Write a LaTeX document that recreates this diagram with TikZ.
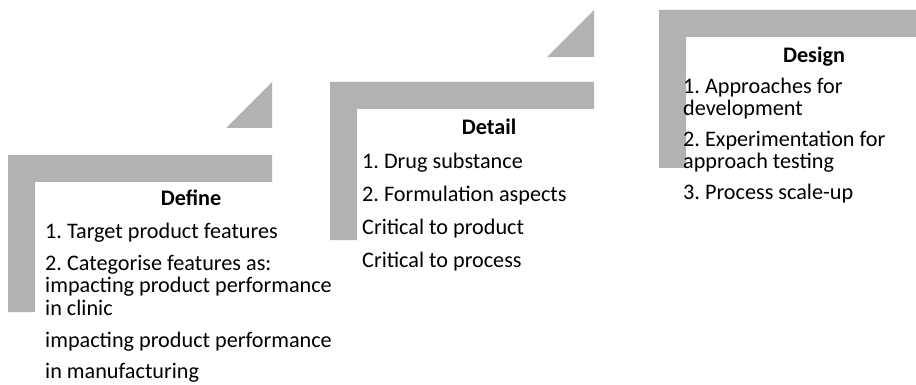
\documentclass[tikz,border=0pt]{standalone}
\usepackage{fontspec}
\setmainfont{Carlito}
\frenchspacing

\begin{document}
\begin{tikzpicture}[x=1pt,
                    y=-1pt,
                    bar/.style={fill=black!30,draw=none},
                    head/.style={font=\fontsize{22.2}{24}\selectfont\bfseries,anchor=base,inner sep=0pt},
                    item/.style={font=\fontsize{22.2}{24}\selectfont,anchor=base west,inner sep=0pt}
                    ]
  \useasboundingbox (0,0) rectangle (916,385);
  % stairs
  \foreach \x/\y/\w/\h in {8/155/264/157, 330/82/264/158, 659/10/257/158}{
    \fill[bar] (\x,\y) -- ++(\w,0) -- ++(0,27) -- ++(-\w+27,0) -- ++(0,\h-27) -- ++(-27,0) -- cycle;
  }
  \fill[bar] (226,128) -- (272,128) -- (272,82) -- cycle;
  \fill[bar] (547,57) -- (594,57) -- (594,10) -- cycle;
  % Define
  \node[head] (define) at (191,205) {Define};
  \node[item] (def1) at (45,238) {1. Target product features};
  \node[item] (def2a) at (45,270) {2. Categorise features as:};
  \node[item] (def2b) at (45,292) {impacting product performance};
  \node[item] (def2c) at (45,315) {in clinic};
  \node[item] (def3a) at (45,347) {impacting product performance};
  \node[item] (def3b) at (45,378) {in manufacturing};
  % Detail
  \node[head] (detail) at (489,135) {Detail};
  \node[item] (det1) at (362,168) {1. Drug substance};
  \node[item] (det2) at (362,201) {2. Formulation aspects};
  \node[item] (det3) at (362,234) {Critical to product};
  \node[item] (det4) at (362,267) {Critical to process};
  % Design
  \node[head] (design) at (814,63) {Design};
  \node[item] (des1a) at (683,94) {1. Approaches for};
  \node[item] (des1b) at (683,116) {development};
  \node[item] (des2a) at (683,147) {2. Experimentation for};
  \node[item] (des2b) at (683,169) {approach testing};
  \node[item] (des3) at (683,200) {3. Process scale-up};
\end{tikzpicture}
\end{document}
